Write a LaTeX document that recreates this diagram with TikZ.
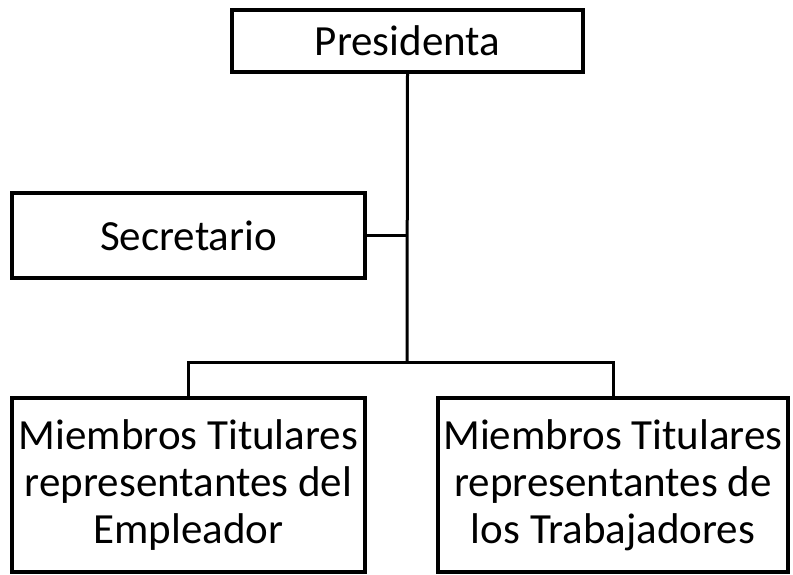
\documentclass[tikz,border=0pt]{standalone}
\usepackage{fontspec}
\setmainfont{Carlito}
\usepackage{tikz}
\tikzset{
BOX/.style ={draw=black,line width=3.4pt,rectangle,inner sep=0pt,align=center,font=\fontsize{43}{47}\selectfont},
LINE/.style ={draw=black,line join=miter,line cap=butt,line width=3pt},
}

\begin{document}
\begin{tikzpicture} %organigrama
[x=1pt,y=-1pt]
	\useasboundingbox (0,0) rectangle (793,574);
	\node[BOX,minimum width=351pt,minimum height=62pt] (pres) at (407.5,41) {Presidenta};
	\node[BOX,minimum width=353pt,minimum height=85pt] (sec) at (188.5,235.5) {Secretario};
	\node[BOX,minimum width=353pt,minimum height=174pt] (emp) at (188.5,485) {Miembros Titulares\\representantes del\\Empleador};
	\node[BOX,minimum width=350pt,minimum height=174pt] (trab) at (613,485) {Miembros Titulares\\representantes de\\los Trabajadores};
	\coordinate (bus) at (407,362);
	\path[LINE] (pres.south) -- (bus);
	\path[LINE] (sec.east) -- (sec.east -| bus);
	\path[LINE] (emp.north) |- (bus) -| (trab.north);
\end{tikzpicture}
\end{document}
